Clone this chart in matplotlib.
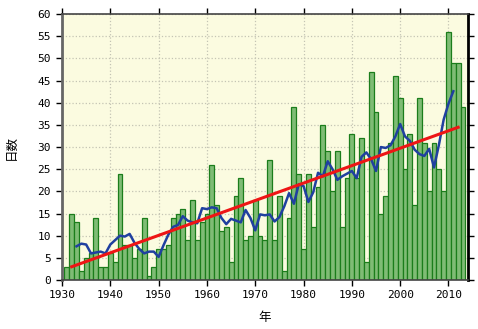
import matplotlib
matplotlib.use("Agg")
import matplotlib.pyplot as plt
import numpy as np

plt.rcParams["font.family"] = ["Noto Sans CJK JP", "DejaVu Sans"]

# annual day counts, 1931-2013
YEARS = list(range(1931, 2014))
DAYS = [
    3, 15, 13, 2, 5, 6, 14, 3, 3, 6,          # 1931-1940
    4, 24, 8, 8, 5, 7, 14, 1, 3, 7,           # 1941-1950
    7, 8, 14, 15, 16, 9, 18, 9, 13, 15,       # 1951-1960
    26, 17, 11, 12, 4, 19, 23, 9, 10, 18,     # 1961-1970
    10, 9, 27, 9, 19, 2, 14, 39, 24, 7,       # 1971-1980
    24, 12, 21, 35, 29, 20, 29, 12, 23, 33,   # 1981-1990
    23, 32, 4, 47, 38, 15, 19, 31, 46, 41,    # 1991-2000
    25, 33, 17, 41, 31, 20, 31, 25, 20, 56,   # 2001-2010
    49, 49, 39,                               # 2011-2013
]
X_TICKS = list(range(1930, 2011, 10))
Y_TICKS = list(range(0, 61, 5))

years = np.array(YEARS)
days = np.array(DAYS, dtype=float)

# 5-year centred running mean
run_mean = np.convolve(days, np.ones(5) / 5, mode="valid")
run_years = years[2:-2]

# linear trend
coef = np.polyfit(years, days, 1)
trend_years = years[1:-1]
trend = np.polyval(coef, trend_years)

fig = plt.figure(figsize=(4.78, 3.29), dpi=100)
ax = fig.add_axes([0.1297, 0.149, 0.849, 0.808])
ax.set_facecolor("#fbfbe0")

ax.bar(years, days, width=1.0, color="#7fbc75", edgecolor="#1b7d1b",
       linewidth=0.9, zorder=2)
ax.plot(run_years, run_mean, color="#2040a0", linewidth=1.8, zorder=3)
ax.plot(trend_years, trend, color="#ee1515", linewidth=2.2, zorder=4)

ax.set_xlim(1930, 2014)
ax.set_ylim(0, 60)
ax.set_xticks(X_TICKS)
ax.set_yticks(Y_TICKS)
ax.grid(color="#c4c4b4", linestyle=":", linewidth=0.9, zorder=0)
ax.set_axisbelow(True)

mono = {"family": "DejaVu Sans Mono", "size": 8}
ax.set_xticklabels([str(t) for t in X_TICKS], fontdict=mono)
ax.set_yticklabels([str(t) for t in Y_TICKS], fontdict=mono)
ax.tick_params(axis="x", direction="out", length=4, width=1, pad=3,
               top=True, labeltop=False)
ax.tick_params(axis="y", direction="out", length=4, width=1, pad=4,
               right=True, labelright=False)

for side in ("top", "bottom"):
    ax.spines[side].set_color("#444444")
    ax.spines[side].set_linewidth(1.2)
ax.spines["left"].set_color("#666666")
ax.spines["left"].set_linewidth(2.0)
ax.spines["right"].set_color("#000000")
ax.spines["right"].set_linewidth(2.0)

ax.set_xlabel("年", fontsize=9, labelpad=8)
ax.set_ylabel("日数", fontsize=9, labelpad=14)

fig.savefig("out.png", dpi=100)
